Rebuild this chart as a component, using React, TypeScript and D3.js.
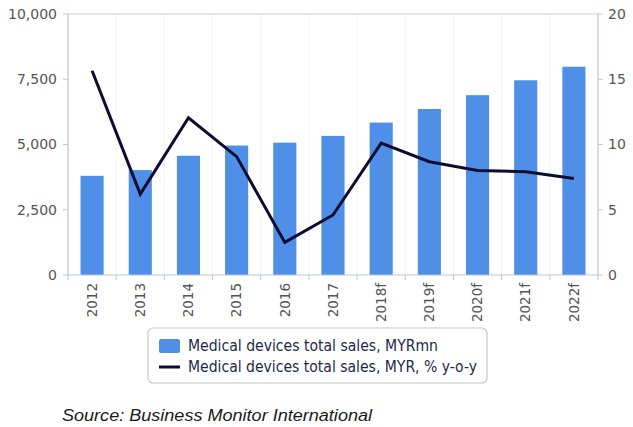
import React from "react";
import * as d3 from "d3";

const categories = ["2012","2013","2014","2015","2016","2017","2018f","2019f","2020f","2021f","2022f"];
const salesValues = [3800, 4020, 4570, 4960, 5070, 5330, 5840, 6360, 6890, 7460, 7980];
const growthValues = [15.65, 6.2, 12.05, 9.07, 2.5, 4.6, 10.1, 8.68, 8.0, 7.92, 7.4];
const leftTicks = [0, 2500, 5000, 7500, 10000];
const rightTicks = [0, 5, 10, 15, 20];
const legendLabels = ["Medical devices total sales, MYRmn", "Medical devices total sales, MYR, % y-o-y"];
const sourceText = "Source:  Business Monitor International";

const W = 633, H = 427;
const left = 68, right = 598, top = 14, bottom = 275;

export default function App() {
  const x = d3.scaleBand<string>().domain(categories).range([left, right]).paddingInner(0.52).paddingOuter(0.26);
  const step = x.step();
  const yL = d3.scaleLinear().domain([0, 10000]).range([bottom, top]);
  const yR = d3.scaleLinear().domain([0, 20]).range([bottom, top]);
  const fmt = d3.format(",");
  const line = d3.line<number>()
    .x((_, i) => (x(categories[i]) as number) + x.bandwidth() / 2)
    .y((d) => yR(d));
  const axisColor = "#b8c8dc";
  const labelFont = "'DejaVu Sans', Verdana, sans-serif";
  return (
    <svg width={W} height={H} style={{ position: "absolute", left: 0, top: 0, background: "#fff" }}>
      {categories.map((c, i) => (
        <line key={"g" + c} x1={left + step * i} x2={left + step * i} y1={top} y2={bottom} stroke="#f3f3f3" strokeWidth={1} />
      ))}
      {salesValues.map((v, i) => (
        <rect key={"b" + i} x={x(categories[i])} y={yL(v)} width={x.bandwidth()} height={bottom - yL(v)} fill="#4f8fe8" />
      ))}
      <line x1={left} x2={right} y1={top} y2={top} stroke="#d0d0d0" strokeWidth={1.2} />
      <line x1={left} x2={left} y1={top} y2={bottom} stroke={axisColor} strokeWidth={1.2} />
      <line x1={right} x2={right} y1={top} y2={bottom} stroke={axisColor} strokeWidth={1.2} />
      <line x1={left} x2={right} y1={bottom} y2={bottom} stroke={axisColor} strokeWidth={1.2} />
      {d3.range(categories.length + 1).map((i) => (
        <line key={"xt" + i} x1={left + step * i} x2={left + step * i} y1={bottom} y2={bottom + 5} stroke={axisColor} />
      ))}
      {leftTicks.map((t) => (
        <g key={"l" + t}>
          <line x1={left - 5} x2={left} y1={yL(t)} y2={yL(t)} stroke={axisColor} />
          <text x={left - 11} y={yL(t)} dy="0.35em" textAnchor="end" fontSize={14} fill="#555" fontFamily={labelFont}>{fmt(t)}</text>
        </g>
      ))}
      {rightTicks.map((t) => (
        <g key={"r" + t}>
          <line x1={right} x2={right + 5} y1={yR(t)} y2={yR(t)} stroke={axisColor} />
          <text x={right + 10} y={yR(t)} dy="0.35em" textAnchor="start" fontSize={14} fill="#555" fontFamily={labelFont}>{t}</text>
        </g>
      ))}
      {categories.map((c) => {
        const cx = (x(c) as number) + x.bandwidth() / 2;
        return (
          <text key={"xl" + c} transform={`translate(${cx},${bottom + 8}) rotate(-90)`} textAnchor="end" dy="0.35em" fontSize={13.5} fill="#555" fontFamily={labelFont}>{c}</text>
        );
      })}
      <path d={line(growthValues) as string} fill="none" stroke="#0d0d33" strokeWidth={3} strokeLinejoin="miter" />
      <rect x={148} y={328} width={339} height={55} rx={5} fill="#fff" stroke="#c8c8c8" strokeWidth={1.2} />
      <rect x={159} y={339} width={21} height={14} rx={2} fill="#4f8fe8" />
      <line x1={159} x2={180} y1={367} y2={367} stroke="#0d0d33" strokeWidth={3} />
      <text x={188} y={346} dy="0.35em" fontSize={15} fill="#1c2a4a" fontWeight={500} fontFamily="'DejaVu Sans Condensed', 'DejaVu Sans', sans-serif" textLength={250} lengthAdjust="spacingAndGlyphs">{legendLabels[0]}</text>
      <text x={188} y={367} dy="0.35em" fontSize={15} fill="#1c2a4a" fontWeight={500} fontFamily="'DejaVu Sans Condensed', 'DejaVu Sans', sans-serif" textLength={289} lengthAdjust="spacingAndGlyphs">{legendLabels[1]}</text>
      <text x={62} y={415} dy="0.35em" fontSize={16} fontStyle="italic" fill="#1a1a1a" fontFamily="'Liberation Sans', Arial, sans-serif" textLength={310} lengthAdjust="spacingAndGlyphs">{sourceText}</text>
    </svg>
  );
}
